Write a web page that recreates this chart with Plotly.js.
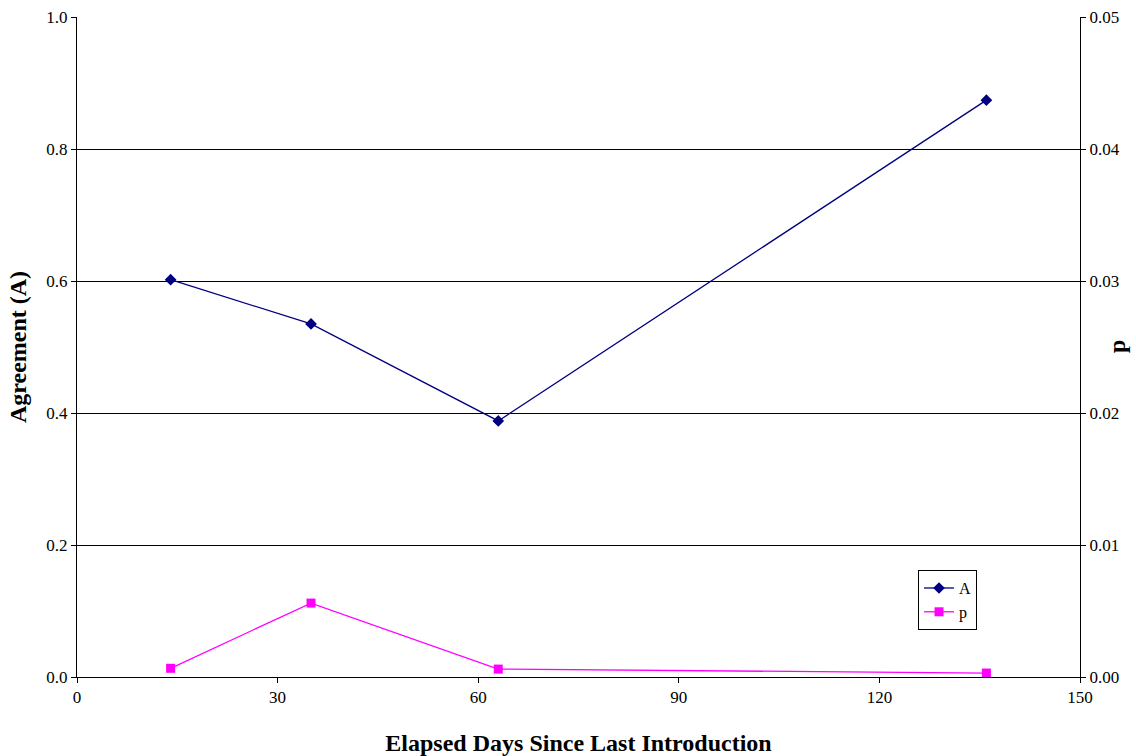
<!DOCTYPE html>
<html><head><meta charset="utf-8">
<script src="https://cdn.plot.ly/plotly-3.0.1.min.js"></script>
<style>html,body{margin:0;padding:0;background:#fff}#chart{width:1136px;height:756px}</style>
</head><body><div id="chart"></div>
<script>
const days = [14, 35, 63, 136];
const agreementA = [0.602, 0.535, 0.388, 0.874];
const pValues = [0.00066, 0.0056, 0.0006, 0.0003];
const xTicks = [0, 30, 60, 90, 120, 150];

const font = 'Liberation Serif, Times New Roman, serif';
const traces = [
  {x: days, y: agreementA, name: 'A', type: 'scatter', mode: 'lines+markers',
   line: {color: '#000080', width: 1.3}, marker: {symbol: 'diamond', size: 9, color: '#000080'}},
  {x: days, y: pValues, name: 'p', type: 'scatter', mode: 'lines+markers', yaxis: 'y2',
   line: {color: '#FF00FF', width: 1.3}, marker: {symbol: 'square', size: 9, color: '#FF00FF'}}
];
const layout = {
  width: 1136, height: 756,
  margin: {l: 77, r: 56, t: 17, b: 79},
  paper_bgcolor: '#fff', plot_bgcolor: '#fff',
  font: {family: font, size: 17, color: '#000'},
  showlegend: true,
  legend: {x: 0.8385, y: 0.162, xanchor: 'left', yanchor: 'top', bordercolor: '#000', borderwidth: 1,
           bgcolor: '#fff', font: {family: font, size: 16}, tracegroupgap: 0, itemwidth: 30},
  xaxis: {range: [0, 150], tickvals: xTicks, ticks: 'outside', ticklen: 5, tickcolor: '#000',
          showline: true, linecolor: '#000', linewidth: 1, showgrid: false, zeroline: false,
          title: {text: '<b>Elapsed Days Since Last Introduction</b>', font: {family: font, size: 24}, standoff: 28}},
  yaxis: {range: [0, 1], dtick: 0.2, tickformat: '.1f', ticks: 'outside', ticklen: 5, tickcolor: '#000',
          showline: true, linecolor: '#000', linewidth: 1, showgrid: true, gridcolor: '#000', gridwidth: 1,
          zeroline: false,
          title: {text: '<b>Agreement (A)</b>', font: {family: font, size: 24}, standoff: 12}},
  yaxis2: {range: [0, 0.05], dtick: 0.01, tickformat: '.2f', overlaying: 'y', side: 'right',
           ticks: 'outside', ticklen: 5, tickcolor: '#000', showline: true, linecolor: '#000', linewidth: 1,
           showgrid: false, zeroline: false},
  annotations: [{text: '<b>p</b>', xref: 'paper', yref: 'paper', x: 1.0369, y: 0.5, xanchor: 'center', yanchor: 'middle',
                 textangle: -90, showarrow: false, font: {family: font, size: 24}}]
};
Plotly.newPlot('chart', traces, layout, {displayModeBar: false, staticPlot: true});
</script></body></html>
